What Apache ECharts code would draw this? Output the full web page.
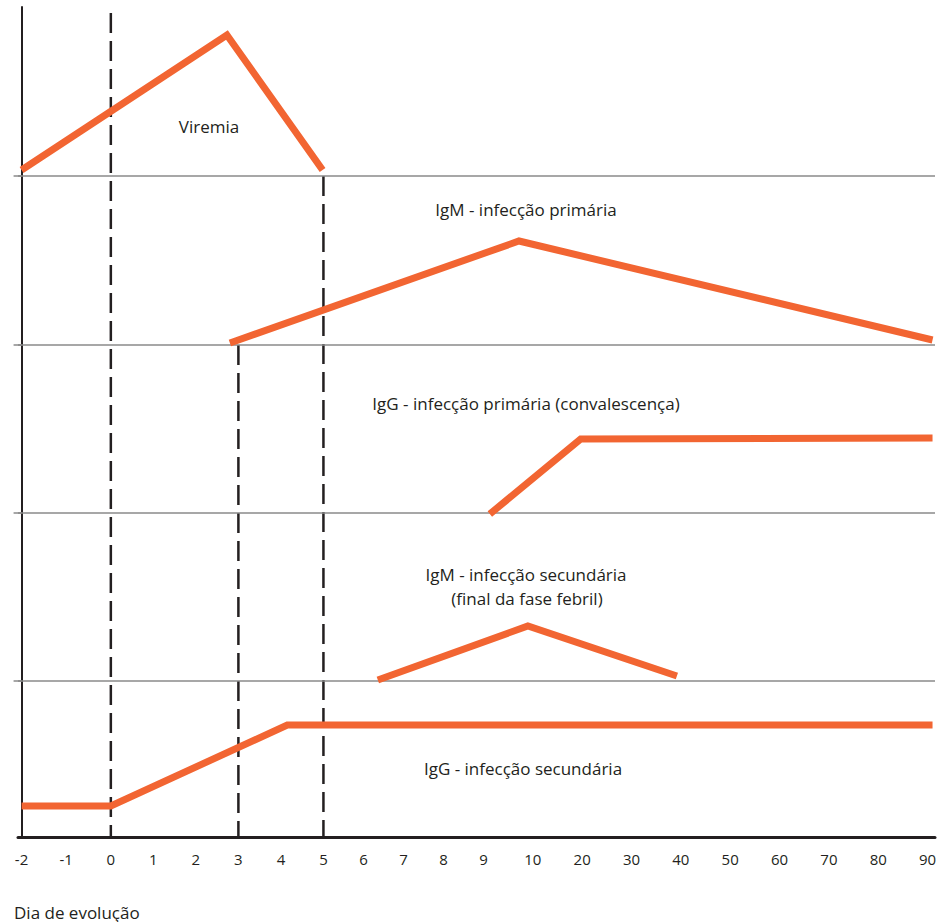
<!DOCTYPE html>
<html lang="pt">
<head>
<meta charset="UTF-8">
<title>Dia de evolução</title>
<script src="https://cdn.jsdelivr.net/npm/echarts@6/dist/echarts.min.js"></script>
<style>
    html, body {
        margin: 0;
        padding: 0;
        background: #fff;
    }
    #chart {
        width: 943px;
        height: 922px;
    }
</style>
</head>
<body>
<div id="chart"></div>
<script>
    // dias mostrados no eixo x
    var tickDays = [-2, -1, 0, 1, 2, 3, 4, 5, 6, 7, 8, 9, 10, 20, 30, 40, 50, 60, 70, 80, 90];

    // curvas: [dia, nível]
    var viremia = [[-2, 66.7], [2.73, 80.2], [4.98, 66.7]];
    var igmPrimaria = [[2.8, 49.4], [9.72, 59.6], [91, 49.7]];
    var iggPrimaria = [[9.13, 32.3], [19.7, 39.8], [91, 39.9]];
    var igmSecundaria = [[6.36, 15.7], [9.9, 21.1], [39.2, 16.1]];
    var iggSecundaria = [[-2, 3.1], [0, 3.1], [4.15, 11.2], [91, 11.2]];

    // linhas horizontais entre as faixas
    var bandLines = [15.6, 32.4, 49.2, 66.1];

    // linhas tracejadas: dia e nível onde começam
    var markerDays = [0, 3, 5];
    var markerTops = [82.4, 49.2, 66.1];

    // o eixo não é linear: -2..9 passo curto, depois 9,10,20..90 passo largo
    var scaleDays = [-2, 0, 5, 9, 10, 90];
    var scalePos = [0, 2.07, 7, 10.71, 11.855, 21.01];

    function dayPos(d) {
        var i = 0;
        while (i < scaleDays.length - 2 && d > scaleDays[i + 1]) i++;
        var t = (d - scaleDays[i]) / (scaleDays[i + 1] - scaleDays[i]);
        return scalePos[i] + t * (scalePos[i + 1] - scalePos[i]);
    }

    function toAxis(points) {
        return points.map(function (p) { return [dayPos(p[0]), p[1]]; });
    }

    var ORANGE = '#f26532';
    var INK = '#231f20';
    var FONT = 'Open Sans';

    function curve(name, points) {
        return {
            name: name,
            type: 'line',
            data: toAxis(points),
            symbol: 'none',
            silent: true,
            z: 5,
            lineStyle: {
                color: ORANGE,
                width: 7,
                cap: 'butt',
                join: 'miter'
            }
        };
    }

    var series = [];

    // faixas (linhas cinzentas)
    series.push({
        type: 'line',
        data: [],
        silent: true,
        z: 1,
        markLine: {
            silent: true,
            symbol: 'none',
            animation: false,
            label: {show: false},
            lineStyle: {color: '#8a8a8a', width: 1.5, type: 'solid'},
            data: bandLines.map(function (v) { return {yAxis: v}; })
        }
    });

    // tracejados verticais
    markerDays.forEach(function (d, i) {
        series.push({
            type: 'line',
            data: [[dayPos(d), markerTops[i]], [dayPos(d), 0]],
            symbol: 'none',
            silent: true,
            z: 3,
            lineStyle: {color: INK, width: 2.5, type: [20, 8]}
        });
    });

    series.push(curve('Viremia', viremia));
    series.push(curve('IgM - infecção primária', igmPrimaria));
    series.push(curve('IgG - infecção primária', iggPrimaria));
    series.push(curve('IgM - infecção secundária', igmSecundaria));
    series.push(curve('IgG - infecção secundária', iggSecundaria));

    function note(text, x, y, align) {
        return {
            type: 'text',
            x: x,
            y: y,
            silent: true,
            style: {
                text: text,
                fill: INK,
                fontSize: 17,
                fontFamily: FONT,
                lineHeight: 18,
                align: align || 'center',
                verticalAlign: 'middle'
            }
        };
    }

    var option = {
        animation: false,
        grid: {left: 18, right: 8, top: 7, bottom: 85},
        xAxis: {
            type: 'value',
            min: dayPos(-2.08),
            max: dayPos(91.5),
            axisLine: {show: true, lineStyle: {color: INK, width: 3}},
            axisTick: {show: false},
            splitLine: {show: false},
            axisLabel: {
                customValues: tickDays.map(dayPos),
                margin: 14,
                color: INK,
                fontSize: 15,
                fontFamily: FONT,
                formatter: function (v) {
                    for (var i = 0; i < tickDays.length; i++) {
                        if (Math.abs(dayPos(tickDays[i]) - v) < 1e-6) return String(tickDays[i]);
                    }
                    return '';
                }
            }
        },
        yAxis: {
            type: 'value',
            min: 0,
            max: 83,
            axisLine: {show: true, lineStyle: {color: INK, width: 2}},
            axisTick: {
                show: true,
                customValues: bandLines,
                length: 8,
                lineStyle: {color: '#8a8a8a', width: 1.5}
            },
            axisLabel: {show: false},
            splitLine: {show: false}
        },
        graphic: [
            note('Viremia', 209, 126),
            note('IgM - infecção primária', 526, 209),
            note('IgG - infecção primária (convalescença)', 526, 403),
            note('IgM - infecção secundária', 526, 574),
            note('(final da fase febril)', 527, 598),
            note('IgG - infecção secundária', 523, 768),
            note('Dia de evolução', 14, 912, 'left')
        ],
        series: series
    };

    var myChart = echarts.init(document.getElementById('chart'), null, {renderer: 'svg'});
    myChart.setOption(option);
</script>
</body>
</html>
